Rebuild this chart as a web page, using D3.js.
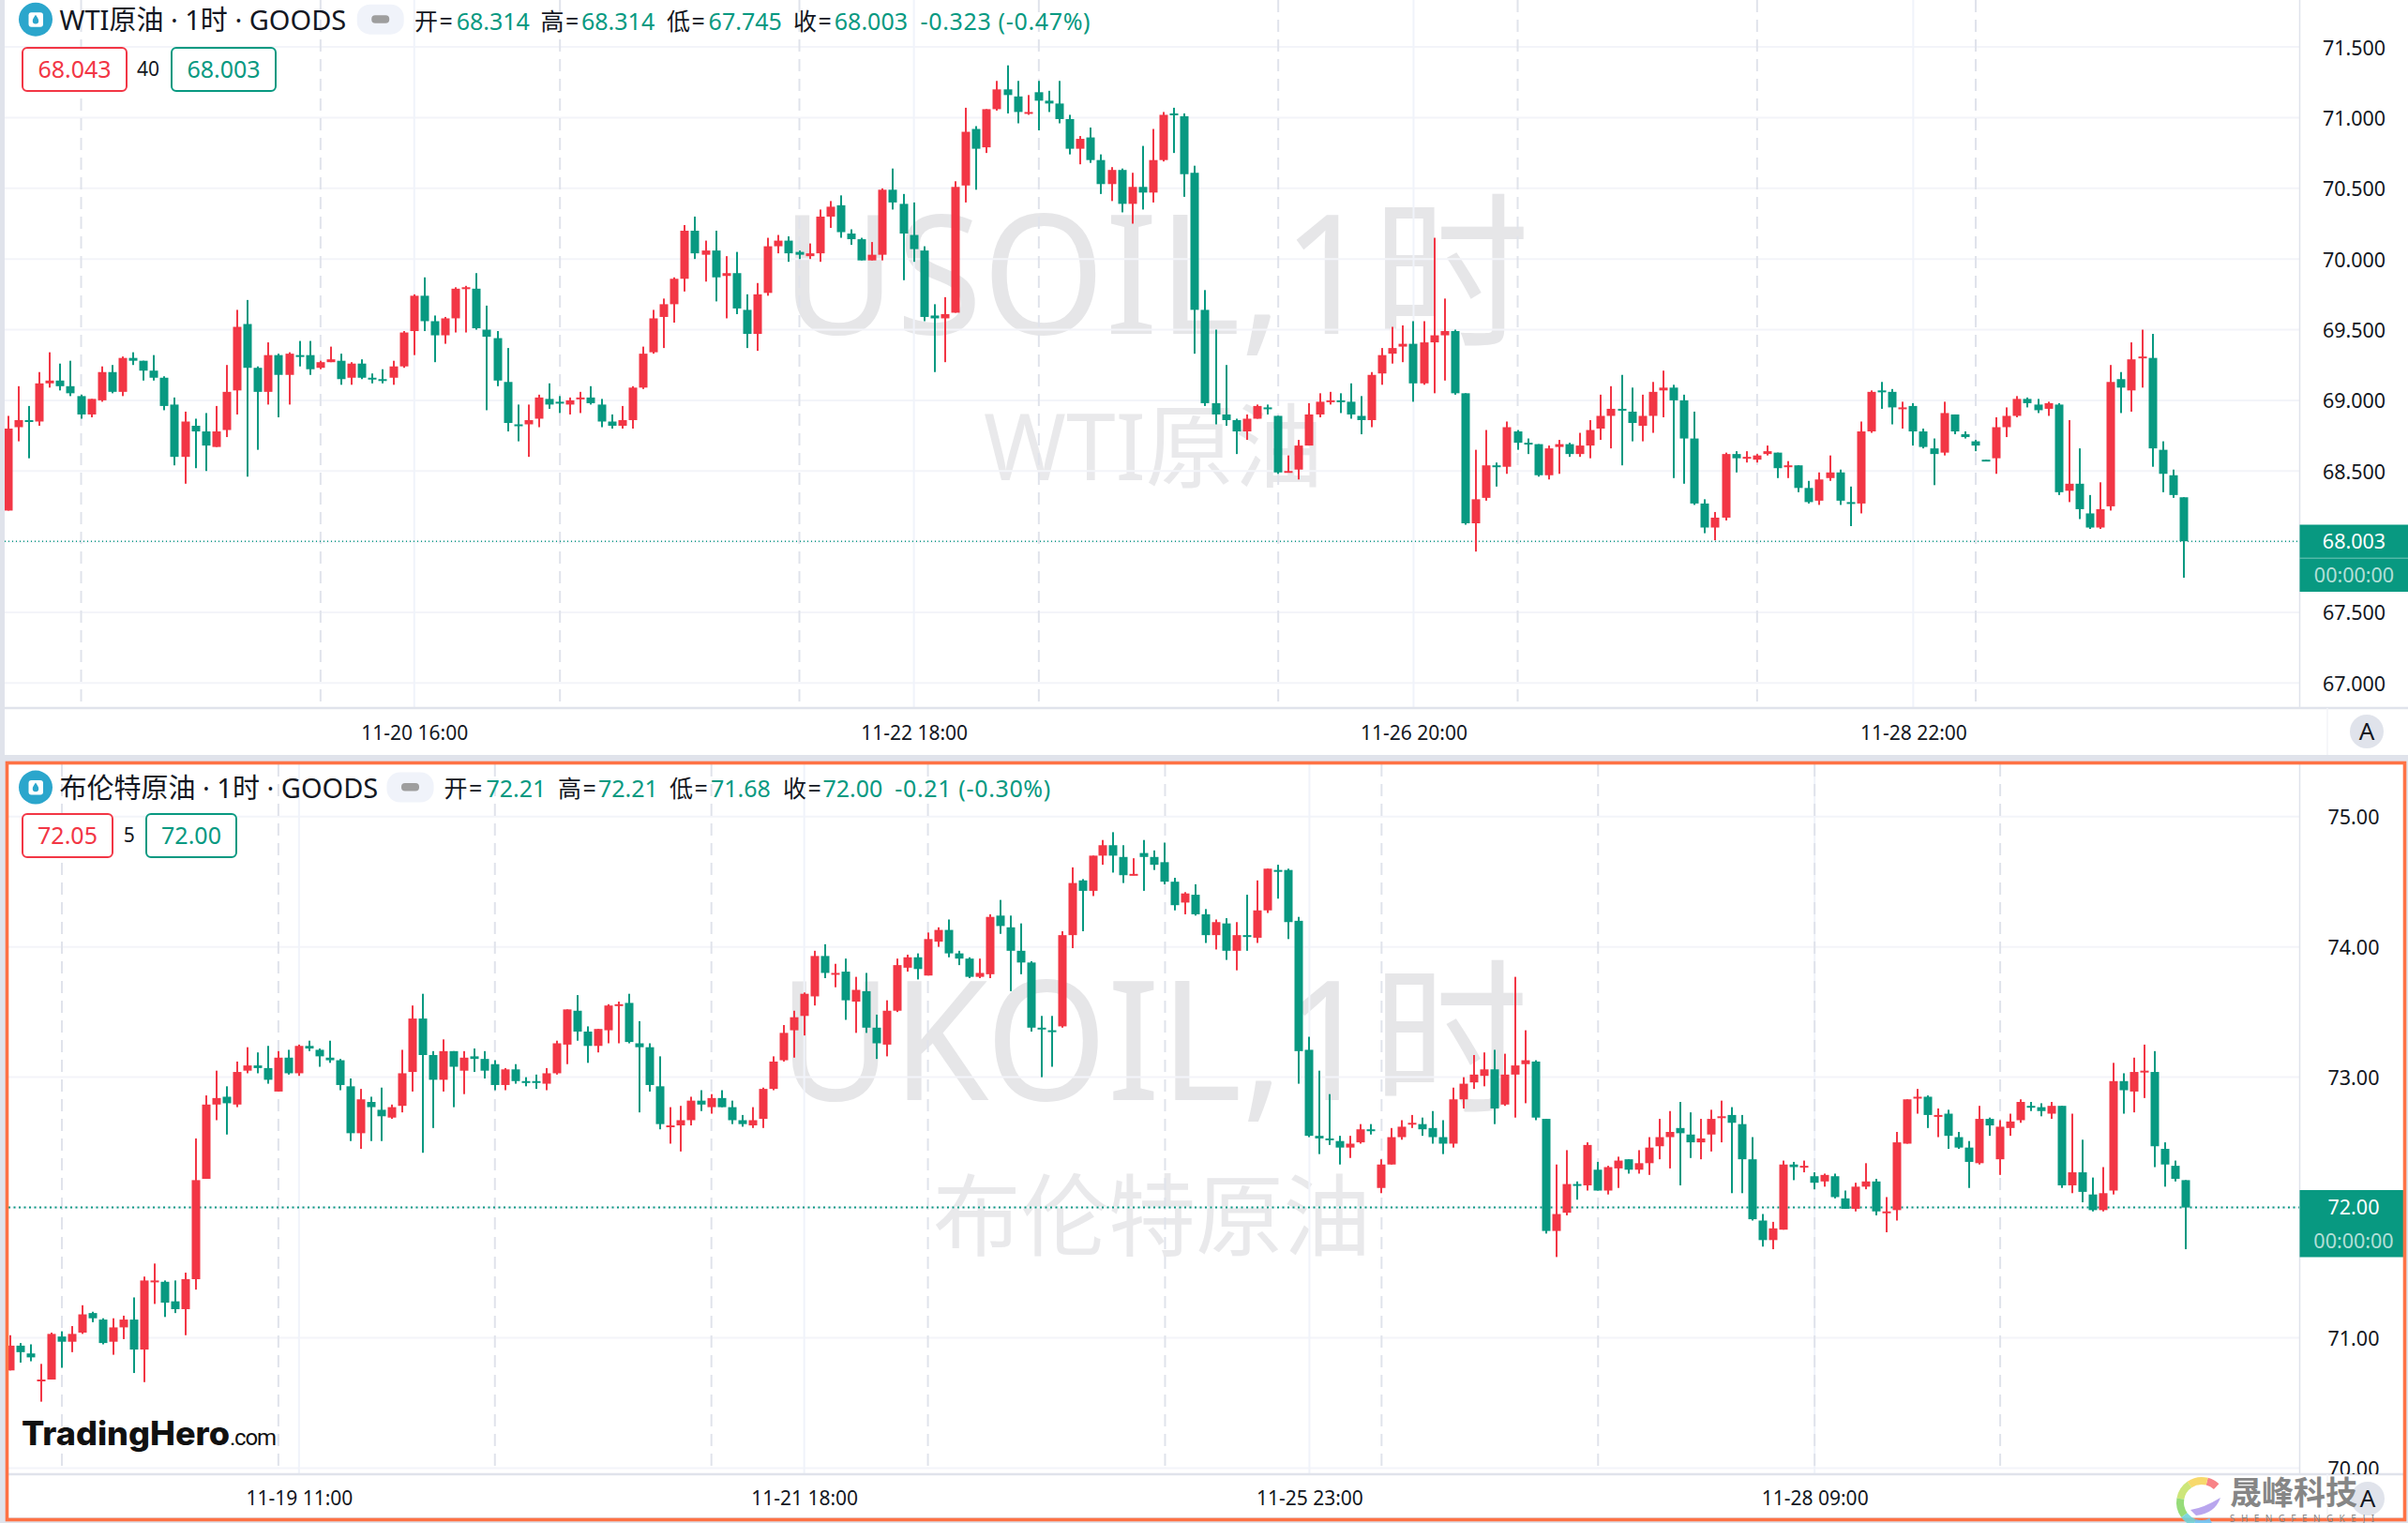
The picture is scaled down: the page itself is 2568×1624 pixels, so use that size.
<!DOCTYPE html>
<html><head><meta charset="utf-8">
<script src="https://cdn.jsdelivr.net/npm/d3@7"></script>
<style>
html,body{margin:0;padding:0;background:#E0E3EB;}
svg{display:block;}
text{font-family:"Noto Sans","Noto Sans CJK SC",sans-serif;}
</style></head><body><svg id="c" width="2568" height="1624"></svg>
<script>
const wtiOpen=[68.22,68.81,68.86,68.85,69.12,69.14,69.10,69.03,68.90,69.00,
69.20,69.06,69.30,69.28,69.21,69.16,68.97,68.60,68.82,68.78,
68.67,68.79,69.07,69.54,69.23,69.06,69.32,69.18,69.32,69.32,
69.23,69.27,69.28,69.16,69.26,69.16,69.15,69.16,69.24,69.49,
69.74,69.56,69.46,69.58,69.79,69.79,69.50,69.44,69.13,68.83,
68.83,68.87,69.01,68.99,68.97,69.01,69.02,68.97,68.85,68.82,
68.86,69.09,69.34,69.59,69.68,69.86,70.20,70.03,70.06,69.88,
69.90,69.64,69.47,69.76,70.09,70.13,70.05,70.02,70.04,70.30,
70.38,70.18,70.14,69.99,70.03,70.49,70.39,70.17,70.06,69.60,
69.58,69.62,70.52,70.92,70.79,71.06,71.20,71.15,71.03,71.18,
71.12,71.10,70.99,70.78,70.86,70.70,70.53,70.63,70.39,70.51,
70.47,70.70,71.03,71.01,70.61,69.64,68.98,68.90,68.86,68.78,
68.87,68.95,68.89,68.49,68.51,68.68,68.90,68.99,69.00,68.99,
68.89,68.86,69.19,69.33,69.38,69.40,69.12,69.41,69.46,69.49,
69.05,68.13,68.31,68.54,68.53,68.78,68.70,68.69,68.47,68.67,
68.69,68.62,68.68,68.80,68.89,68.94,68.92,68.82,68.89,69.07,
69.09,69.00,68.73,68.27,68.10,68.17,68.62,68.59,68.58,68.62,
68.63,68.53,68.54,68.38,68.29,68.45,68.49,68.28,68.27,68.78,
69.07,69.06,68.94,68.96,68.78,68.66,68.63,68.90,68.76,68.71,
68.58,68.59,68.81,68.89,69.01,68.97,68.94,68.97,68.36,68.41,
68.20,68.10,68.25,69.15,69.07,69.30,69.30,68.65,68.47,68.314];
const wtiHigh=[68.89,69.10,68.96,69.20,69.34,69.26,69.28,69.04,69.01,69.24,
69.25,69.31,69.34,69.28,69.32,69.17,69.02,68.92,68.87,68.91,
68.96,69.25,69.64,69.71,69.24,69.41,69.33,69.34,69.42,69.42,
69.28,69.38,69.33,69.27,69.29,69.19,69.22,69.28,69.49,69.75,
69.87,69.60,69.59,69.80,69.81,69.90,69.67,69.49,69.37,68.97,
68.97,69.04,69.12,69.03,69.02,69.06,69.10,69.01,68.90,68.96,
69.10,69.38,69.64,69.72,69.87,70.24,70.30,70.13,70.20,70.02,
70.05,69.75,69.83,70.15,70.17,70.16,70.06,70.11,70.35,70.41,
70.45,70.21,70.15,70.12,70.50,70.64,70.46,70.40,70.09,69.68,
69.73,70.55,71.07,70.94,71.06,71.26,71.37,71.26,71.16,71.26,
71.19,71.26,71.02,70.87,70.93,70.74,70.65,70.64,70.61,70.80,
70.92,71.04,71.07,71.03,70.66,69.78,69.50,69.25,68.87,68.90,
68.97,68.97,68.89,68.61,68.72,68.98,69.05,69.06,69.05,69.12,
69.03,69.20,69.37,69.52,69.53,69.56,69.56,70.15,69.72,69.50,
69.05,68.65,68.79,68.56,68.85,68.79,68.73,68.69,68.68,68.72,
68.70,68.77,68.86,69.04,69.10,69.18,69.09,69.04,69.13,69.21,
69.11,69.04,68.92,68.30,68.21,68.63,68.64,68.64,68.62,68.68,
68.63,68.57,68.54,68.43,68.49,68.61,68.51,68.39,68.85,69.07,
69.13,69.08,68.99,68.98,68.80,68.73,68.99,68.90,68.78,68.72,
68.58,68.88,68.95,69.03,69.02,69.01,68.99,68.98,68.86,68.66,
68.33,68.42,69.25,69.20,69.41,69.50,69.47,68.71,68.51,68.314];
const wtiLow=[68.22,68.71,68.59,68.82,69.09,69.07,69.03,68.87,68.88,68.99,
69.05,69.03,69.25,69.14,69.14,68.93,68.54,68.41,68.52,68.50,
68.67,68.74,68.90,68.46,68.65,68.97,68.88,68.97,69.24,69.18,
69.22,69.27,69.11,69.11,69.15,69.12,69.12,69.11,69.23,69.32,
69.49,69.27,69.40,69.48,69.48,69.50,68.93,69.10,68.78,68.71,
68.60,68.81,68.94,68.91,68.90,68.91,68.97,68.81,68.80,68.80,
68.80,69.08,69.33,69.37,69.55,69.77,70.00,69.84,69.70,69.58,
69.61,69.37,69.35,69.74,70.04,69.98,70.00,70.00,69.98,70.22,
70.15,70.10,69.99,69.99,69.99,70.35,69.85,69.98,69.56,69.20,
69.27,69.62,70.40,70.49,70.75,71.05,71.03,70.96,71.02,70.91,
71.04,70.96,70.74,70.67,70.68,70.46,70.41,70.33,70.25,70.35,
70.40,70.69,70.75,70.44,69.33,68.96,68.83,68.82,68.62,68.72,
68.87,68.90,68.48,68.49,68.44,68.68,68.88,68.97,68.91,68.87,
68.76,68.81,69.11,69.26,69.27,68.99,69.11,69.05,69.14,69.04,
68.12,67.93,68.29,68.39,68.48,68.65,68.62,68.46,68.44,68.48,
68.60,68.60,68.59,68.72,68.66,68.54,68.71,68.71,68.77,68.88,
68.45,68.41,68.26,68.06,68.01,68.15,68.49,68.56,68.56,68.61,
68.45,68.45,68.35,68.27,68.26,68.43,68.26,68.11,68.20,68.77,
68.94,68.83,68.80,68.68,68.66,68.40,68.61,68.76,68.73,68.64,
68.58,68.48,68.74,68.88,68.95,68.91,68.89,68.33,68.28,68.16,
68.09,68.09,68.22,68.91,68.92,69.09,68.53,68.35,68.31,67.745];
const wtiClose=[68.80,68.86,68.85,69.12,69.14,69.10,69.05,68.90,69.01,69.20,
69.06,69.30,69.28,69.21,69.16,68.96,68.60,68.85,68.78,68.68,
68.78,69.06,69.52,69.23,69.06,69.32,69.18,69.33,69.31,69.22,
69.27,69.29,69.15,69.26,69.16,69.15,69.14,69.24,69.48,69.74,
69.56,69.46,69.58,69.79,69.80,69.51,69.45,69.14,68.84,68.83,
68.86,69.02,68.97,68.98,69.00,69.02,68.98,68.85,68.82,68.86,
69.09,69.33,69.58,69.68,69.86,70.20,70.04,70.06,69.87,69.90,
69.65,69.47,69.75,70.09,70.13,70.04,70.03,70.04,70.30,70.37,
70.19,70.14,69.99,70.03,70.49,70.40,70.18,70.07,69.59,69.58,
69.61,70.51,70.90,70.78,71.06,71.20,71.16,71.04,71.04,71.12,
71.10,70.99,70.78,70.85,70.70,70.53,70.63,70.39,70.51,70.47,
70.70,71.02,71.02,70.60,69.64,68.98,68.90,68.86,68.78,68.87,
68.96,68.94,68.49,68.50,68.68,68.90,68.99,69.00,68.99,68.90,
68.86,69.18,69.32,69.37,69.40,69.12,69.41,69.46,69.49,69.05,
68.13,68.30,68.54,68.53,68.81,68.70,68.69,68.47,68.66,68.69,
68.62,68.68,68.79,68.89,68.94,68.93,68.84,68.89,69.06,69.09,
69.00,68.73,68.27,68.10,68.17,68.62,68.59,68.60,68.61,68.64,
68.52,68.54,68.38,68.28,68.44,68.49,68.29,68.27,68.78,69.06,
69.06,68.95,68.95,68.78,68.67,68.62,68.91,68.78,68.74,68.68,
68.58,68.81,68.89,69.01,68.98,68.93,68.98,68.35,68.41,68.23,
68.10,68.23,69.13,69.09,69.29,69.31,68.66,68.48,68.33,68.003];

const brentOpen=[70.75,70.94,70.88,70.67,70.68,71.01,70.97,71.04,71.19,71.14,
70.97,71.08,71.14,70.91,71.43,71.43,71.28,71.22,71.45,72.22,
72.79,72.85,72.79,73.05,73.09,73.07,72.89,73.15,73.03,73.24,
73.21,73.15,73.13,72.93,72.57,72.81,72.75,72.69,72.78,73.04,
73.45,73.17,72.98,73.20,73.05,73.16,73.14,73.10,72.94,73.06,
72.97,72.97,72.95,73.03,73.25,73.51,73.35,73.24,73.36,73.55,
73.57,73.26,73.23,72.93,72.62,72.63,72.67,72.82,72.77,72.84,
72.77,72.67,72.63,72.68,72.91,73.13,73.36,73.47,73.62,73.93,
73.79,73.81,73.58,73.66,73.38,73.25,73.51,73.84,73.92,73.78,
74.04,74.13,73.95,73.91,73.77,73.79,74.24,74.15,73.97,73.88,
73.38,73.36,73.39,74.09,74.51,74.43,74.70,74.78,74.69,74.55,
74.72,74.69,74.65,74.50,74.34,74.40,74.25,74.09,74.18,73.97,
74.09,74.07,74.28,74.59,74.59,74.20,73.21,72.55,72.53,72.51,
72.46,72.50,72.60,72.15,72.33,72.54,72.64,72.64,72.61,72.54,
72.49,72.83,72.96,73.01,73.06,72.79,73.02,73.10,73.12,72.68,
71.82,71.96,72.18,72.17,72.29,72.13,72.30,72.37,72.29,72.34,
72.47,72.54,72.61,72.56,72.50,72.56,72.69,72.71,72.64,72.37,
71.90,71.75,71.83,72.33,72.31,72.24,72.20,72.24,72.07,71.99,
72.16,72.20,71.96,71.98,72.49,72.84,72.85,72.70,72.72,72.54,
72.46,72.34,72.68,72.37,72.61,72.67,72.78,72.77,72.72,72.78,
72.17,72.27,72.10,71.98,72.13,72.97,72.89,73.04,73.04,72.45,
72.32,72.21];
const brentHigh=[71.02,70.96,70.95,70.80,71.04,71.05,71.09,71.25,71.20,71.15,
71.15,71.17,71.31,71.47,71.57,71.44,71.44,71.50,72.53,72.86,
73.05,72.93,73.12,73.23,73.19,73.24,73.20,73.21,73.25,73.28,
73.22,73.28,73.14,72.99,72.91,72.85,72.92,72.79,73.21,73.55,
73.64,73.20,73.29,73.20,73.20,73.22,73.20,73.13,73.07,73.10,
73.00,73.02,73.07,73.28,73.52,73.63,73.39,73.37,73.56,73.58,
73.64,73.43,73.26,73.16,72.77,72.78,72.85,72.90,72.87,72.90,
72.82,72.71,72.77,72.92,73.16,73.40,73.51,73.65,73.97,74.02,
73.87,73.91,73.77,73.80,73.48,73.59,73.91,73.94,73.95,74.11,
74.15,74.21,73.97,73.92,73.91,74.25,74.36,74.24,74.18,73.89,
73.47,73.47,74.12,74.61,74.52,74.70,74.82,74.88,74.78,74.68,
74.82,74.74,74.80,74.53,74.42,74.48,74.29,74.21,74.22,74.19,
74.40,74.51,74.60,74.63,74.60,74.23,73.31,73.05,72.87,72.55,
72.55,72.64,72.64,72.37,72.61,72.67,72.71,72.69,72.74,72.67,
72.92,73.00,73.17,73.19,73.21,73.18,73.77,73.36,73.13,72.68,
72.33,72.44,72.20,72.50,72.35,72.32,72.39,72.37,72.44,72.54,
72.68,72.74,72.81,72.73,72.68,72.75,72.82,72.77,72.71,72.54,
71.95,71.89,72.36,72.35,72.36,72.27,72.26,72.26,72.13,72.19,
72.34,72.22,72.08,72.58,72.83,72.91,72.86,72.76,72.75,72.58,
72.51,72.78,72.69,72.67,72.72,72.83,72.81,72.80,72.81,72.78,
72.72,72.52,72.23,72.31,73.11,73.03,73.15,73.25,73.20,72.50,
72.36,72.21];
const brentLow=[70.75,70.81,70.82,70.51,70.68,70.77,70.89,71.03,71.12,70.95,
70.87,70.99,70.73,70.66,71.26,71.16,71.19,71.02,71.37,72.22,
72.67,72.56,72.77,73.03,73.03,72.95,72.89,73.02,73.01,73.20,
73.08,73.11,72.90,72.51,72.45,72.51,72.51,72.68,72.73,72.89,
72.42,72.61,72.89,72.77,72.87,73.04,72.99,72.90,72.90,72.95,
72.93,72.91,72.90,73.02,73.10,73.28,73.11,73.19,73.26,73.26,
73.26,72.73,72.89,72.60,72.49,72.43,72.63,72.74,72.72,72.77,
72.64,72.62,72.61,72.61,72.90,73.12,73.15,73.32,73.55,73.76,
73.69,73.44,73.34,73.34,73.14,73.16,73.50,73.81,73.75,73.78,
74.00,73.92,73.86,73.76,73.76,73.76,74.10,73.66,73.79,73.35,
73.00,73.08,73.38,73.99,74.12,74.39,74.63,74.57,74.49,74.55,
74.43,74.59,74.48,74.28,74.25,74.24,74.03,73.98,73.90,73.82,
73.97,74.03,74.26,74.37,74.06,72.95,72.54,72.41,72.48,72.33,
72.38,72.49,72.56,72.11,72.33,72.52,72.61,72.55,72.49,72.41,
72.46,72.76,72.91,72.93,72.64,72.78,72.69,72.80,72.67,71.80,
71.62,71.94,72.06,72.13,72.13,72.10,72.15,72.26,72.26,72.25,
72.37,72.30,72.17,72.38,72.37,72.43,72.50,72.11,72.11,71.90,
71.70,71.68,71.83,72.21,72.27,72.14,72.16,72.07,71.99,71.97,
72.14,71.94,71.81,71.90,72.49,72.72,72.61,72.54,72.45,72.45,
72.15,72.33,72.55,72.25,72.55,72.65,72.74,72.70,72.68,72.15,
72.11,72.04,71.97,71.97,72.10,72.72,72.73,72.84,72.31,72.16,
72.20,71.68];
const brentClose=[70.94,70.89,70.85,70.68,71.03,70.97,71.03,71.18,71.15,70.96,
71.08,71.14,70.91,71.44,71.44,71.27,71.22,71.45,72.21,72.79,
72.84,72.80,73.04,73.09,73.07,72.98,73.15,73.03,73.24,73.22,
73.16,73.13,72.94,72.57,72.83,72.77,72.70,72.77,73.03,73.45,
73.17,72.98,73.20,73.08,73.15,73.14,73.05,72.94,73.06,72.97,
72.96,72.96,73.03,73.26,73.52,73.35,73.24,73.37,73.55,73.56,
73.27,73.23,72.94,72.64,72.63,72.67,72.82,72.79,72.84,72.77,
72.67,72.64,72.67,72.91,73.12,73.34,73.46,73.64,73.93,73.80,
73.80,73.59,73.67,73.38,73.26,73.51,73.86,73.92,73.83,74.06,
74.13,73.95,73.91,73.77,73.80,74.23,74.16,73.97,73.88,73.38,
73.37,73.35,74.09,74.49,74.43,74.70,74.78,74.70,74.55,74.56,
74.69,74.63,74.50,74.32,74.41,74.25,74.09,74.19,73.97,74.09,
74.08,74.28,74.60,74.58,74.19,73.20,72.55,72.53,72.52,72.46,
72.49,72.60,72.59,72.33,72.54,72.62,72.65,72.60,72.54,72.49,
72.83,72.95,73.02,73.06,72.76,73.02,73.09,73.13,72.69,71.82,
71.95,72.18,72.17,72.48,72.13,72.31,72.36,72.29,72.34,72.46,
72.54,72.58,72.57,72.50,72.53,72.68,72.70,72.65,72.37,71.91,
71.75,71.84,72.33,72.31,72.32,72.19,72.25,72.08,71.99,72.16,
72.20,71.97,71.97,72.50,72.83,72.85,72.71,72.71,72.55,72.46,
72.35,72.68,72.63,72.62,72.66,72.81,72.77,72.74,72.78,72.17,
72.27,72.12,71.98,72.11,72.97,72.90,73.04,73.05,72.47,72.33,
72.22,72.00];

const wtiPriceTicks=[67,67.5,68,68.5,69,69.5,70,70.5,71,71.5];
const brentPriceTicks=[70,71,72,73,74,75];
const wtiTimeIdx=[39,87,135,183];
const wtiTimeLabels=["11-20 16:00","11-22 18:00","11-26 20:00","11-28 22:00"];
const brentTimeIdx=[28,77,126,175];
const brentTimeLabels=["11-19 11:00","11-21 18:00","11-25 23:00","11-28 09:00"];
const wtiDateSepIdx=[7,30,53,76,99,122,145,168,189];
const brentDateSepIdx=[5,26,47,68,89,112,133,154,175,193];

const RED="#F23645",GREEN="#089981",BLACK="#131722";
const svg=d3.select("#c");
const defs=svg.append("defs");

function txt(g,x,y,s,size,fill,anchor,weight,extra){
  const t=g.append("text").attr("x",x).attr("y",y).attr("font-size",size).attr("fill",fill)
    .attr("text-anchor",anchor||"start").text(s);
  if(weight)t.attr("font-weight",weight);
  if(extra)extra(t);
  return t;
}

function drawPane(c){
  const g=svg.append("g");
  g.append("rect").attr("x",c.left).attr("y",c.top).attr("width",c.paneRight-c.left).attr("height",c.bottom-c.top).attr("fill","#fff");
  const y=d3.scaleLinear().domain(c.yDomain).range(c.yRange);
  const x=d3.scaleLinear().domain([0,c.open.length-1]).range(c.xRange);
  const id="clip"+c.id;
  defs.append("clipPath").attr("id",id).append("rect").attr("x",c.left).attr("y",c.top).attr("width",c.axisX-c.left).attr("height",c.axisY-c.top);
  const plot=g.append("g").attr("clip-path",`url(#${id})`);

  // watermark
  plot.append("text").attr("x",c.wm1X).attr("y",c.wm1Y).attr("font-size",c.wm1Size).attr("fill","#E6E6E8").attr("textLength",c.wm1Len).attr("lengthAdjust","spacingAndGlyphs").text(c.wm1);
  plot.append("text").attr("x",c.wm2X).attr("y",c.wm2Y).attr("font-size",c.wm2Size).attr("fill","#E9E9EB").attr("textLength",c.wm2Len).attr("lengthAdjust","spacingAndGlyphs").text(c.wm2);

  // grid
  plot.selectAll(".h").data(c.priceTicks).join("line").attr("x1",c.left).attr("x2",c.axisX).attr("y1",d=>y(d)).attr("y2",d=>y(d)).attr("stroke","#F3F4F9").attr("stroke-width",2);
  plot.selectAll(".v").data(c.timeIdx).join("line").attr("x1",d=>x(d)).attr("x2",d=>x(d)).attr("y1",c.top).attr("y2",c.axisY).attr("stroke","#F0F3FA").attr("stroke-width",2);
  plot.selectAll(".d").data(c.sepIdx).join("line").attr("x1",d=>x(d)).attr("x2",d=>x(d)).attr("y1",c.top).attr("y2",c.axisY).attr("stroke","#E0E3EB").attr("stroke-width",2).attr("stroke-dasharray","13 8");

  // last price line
  const lastC=c.close[c.close.length-1];
  plot.append("line").attr("x1",c.left).attr("x2",c.axisX).attr("y1",y(lastC)).attr("y2",y(lastC)).attr("stroke",GREEN).attr("stroke-width",c.dotW).attr("stroke-dasharray",c.dot);

  // candles
  const idx=d3.range(c.open.length);
  const col=i=>c.close[i]>c.open[i]?RED:GREEN;
  plot.selectAll(".w").data(idx).join("rect").attr("x",i=>Math.round(x(i))-1).attr("width",2)
    .attr("y",i=>y(c.high[i])).attr("height",i=>Math.max(1,y(c.low[i])-y(c.high[i]))).attr("fill",col);
  plot.selectAll(".b").data(idx).join("rect").attr("x",i=>Math.round(x(i))-4.5).attr("width",9)
    .attr("y",i=>Math.min(y(c.open[i]),y(c.close[i]))).attr("height",i=>Math.max(2,Math.abs(y(c.open[i])-y(c.close[i])))).attr("fill",col);

  // borders
  g.append("line").attr("x1",c.left).attr("x2",c.paneRight).attr("y1",c.axisY).attr("y2",c.axisY).attr("stroke","#E0E3EB").attr("stroke-width",2.5);
  g.append("line").attr("x1",c.axisX).attr("x2",c.axisX).attr("y1",c.top).attr("y2",c.axisY).attr("stroke","#E0E3EB").attr("stroke-width",1.5);
  g.append("line").attr("x1",c.dividerX).attr("x2",c.dividerX).attr("y1",c.axisY).attr("y2",c.bottom).attr("stroke","#F3F4F7").attr("stroke-width",1.5);

  // price axis
  const pid="pclip"+c.id;
  defs.append("clipPath").attr("id",pid).append("rect").attr("x",c.axisX).attr("y",c.top).attr("width",c.paneRight-c.axisX).attr("height",c.axisY-c.top);
  const pa=g.append("g").attr("clip-path",`url(#${pid})`).append("g").attr("transform",`translate(${c.labelX},0)`)
    .call(d3.axisRight(y).tickValues(c.priceTicks).tickFormat(d=>d.toFixed(c.dec)).tickSize(0).tickPadding(0));
  pa.select(".domain").remove();
  pa.selectAll("text").attr("font-size",21.5).attr("fill",BLACK).attr("text-anchor","middle").attr("x",0).attr("dy","0.37em").style("font-family",'"Noto Sans",sans-serif');

  // time axis
  const ta=g.append("g").attr("transform",`translate(0,${c.axisY})`)
    .call(d3.axisBottom(x).tickValues(c.timeIdx).tickFormat((d,i)=>c.timeLabels[i]).tickSize(0).tickPadding(0));
  ta.select(".domain").remove();
  ta.selectAll("text").attr("font-size",21).attr("fill",BLACK).attr("y",c.timeLabelDy).attr("dy",0).style("font-family",'"Noto Sans",sans-serif');

  // last price box
  g.append("rect").attr("x",c.axisX).attr("y",c.boxY0).attr("width",c.boxRight-c.axisX).attr("height",c.boxY1-c.boxY0).attr("fill",GREEN);
  if(c.boxDivider)g.append("line").attr("x1",c.axisX).attr("x2",c.boxRight).attr("y1",c.boxDivider).attr("y2",c.boxDivider).attr("stroke","rgba(255,255,255,.3)").attr("stroke-width",1.5);
  txt(g,c.labelX,c.boxT1,lastC.toFixed(c.dec),21.5,"#fff","middle");
  txt(g,c.labelX,c.boxT2,"00:00:00",21.5,"rgba(255,255,255,.7)","middle");

  // auto button
  g.append("circle").attr("cx",c.btnX).attr("cy",c.btnY).attr("r",18).attr("fill","#E0E3EB");
  txt(g,c.btnX,c.btnY+9,"A",26,BLACK,"middle");

  // header icon
  g.append("circle").attr("cx",38).attr("cy",c.iconY).attr("r",18).attr("fill","#2BA6CC");
  g.append("rect").attr("x",30.5).attr("y",c.iconY-7.5).attr("width",15.5).attr("height",15.5).attr("rx",3).attr("fill","#fff");
  g.append("path").attr("transform",`translate(38,${c.iconY})`).attr("d","M0,-5 C2,-2 3.2,-0.5 3.2,1.5 A3.2,3.2 0 0 1 -3.2,1.5 C-3.2,-0.5 -2,-2 0,-5Z").attr("fill","#2BA6CC");
  txt(g,63.5,c.headBase,c.title,29,BLACK);
  g.append("rect").attr("x",c.pillX).attr("y",c.iconY-16).attr("width",50).attr("height",32).attr("rx",14).attr("fill","#F0F3FA");
  g.append("rect").attr("x",c.pillX+15.5).attr("y",c.iconY-4.5).attr("width",19).attr("height",8.5).attr("rx",4).attr("fill","#9E9E9E");

  // OHLC legend
  c.legendLabels.forEach((l,i)=>{
    g.append("text").attr("x",c.legendX[i]).attr("y",c.legBase).attr("font-size",25).attr("fill",BLACK).attr("letter-spacing",1.5).text(l+"=");
    g.append("text").attr("x",c.legendValX[i]).attr("y",c.legBase).attr("font-size",25).attr("fill",GREEN).text(c.legendVals[i]);
  });
  txt(g,c.chgX,c.legBase,c.change,25,GREEN,"start",null,t=>t.attr("textLength",c.chgLen));

  // bid / ask
  const by=c.quoteY,bh=46;
  g.append("rect").attr("x",c.bidX).attr("y",by).attr("width",c.quoteW).attr("height",bh).attr("rx",5).attr("fill","#fff").attr("stroke",RED).attr("stroke-width",2);
  txt(g,c.bidX+c.quoteW/2,by+32,c.bid,25,RED,"middle");
  txt(g,c.spreadX,by+30,c.spread,21,BLACK,"middle");
  g.append("rect").attr("x",c.askX).attr("y",by).attr("width",c.quoteW).attr("height",bh).attr("rx",5).attr("fill","#fff").attr("stroke",GREEN).attr("stroke-width",2);
  txt(g,c.askX+c.quoteW/2,by+32,c.ask,25,GREEN,"middle");
}

drawPane({id:"w",open:wtiOpen,high:wtiHigh,low:wtiLow,close:wtiClose,priceTicks:wtiPriceTicks,timeIdx:wtiTimeIdx,timeLabels:wtiTimeLabels,sepIdx:wtiDateSepIdx,
  left:5,top:0,paneRight:2568,bottom:805,axisX:2452.5,axisY:755,dividerX:2482,
  yDomain:[67,71.5],yRange:[728.3,50.1],xRange:[8.8,2329],dec:3,labelX:2510.5,timeLabelDy:34,
  wm1X:833,wm1:"USOIL,1时",wm1Y:356,wm1Size:178,wm1Len:798,wm2X:1049,wm2:"WTI原油",wm2Y:512,wm2Size:98,wm2Len:362,dot:"1 3",dotW:1.5,
  boxY0:559.5,boxY1:631,boxDivider:595.3,boxRight:2568,boxT1:585,boxT2:621,btnX:2524,btnY:780,
  iconY:20.7,headBase:31.7,title:"WTI原油 · 1时 · GOODS",pillX:380.7,
  legendLabels:["开","高","低","收"],legendVals:["68.314","68.314","67.745","68.003"],legendX:[442,576.5,711,846],legendValX:[486.7,620,755.6,889.8],chgX:981.6,chgLen:181,change:"-0.323 (-0.47%)",legBase:32,
  quoteY:51,bidX:24,askX:183,quoteW:111,bid:"68.043",ask:"68.003",spread:"40",spreadX:158});

drawPane({id:"b",open:brentOpen,high:brentHigh,low:brentLow,close:brentClose,priceTicks:brentPriceTicks,timeIdx:brentTimeIdx,timeLabels:brentTimeLabels,sepIdx:brentDateSepIdx,
  left:9,top:815,paneRight:2564,bottom:1618,axisX:2452.5,axisY:1572,dividerX:2482,
  yDomain:[70,75],yRange:[1565.5,870.7],xRange:[11,2331],dec:2,labelX:2510,timeLabelDy:33,
  wm1X:830,wm1:"UKOIL,1时",wm1Y:1173,wm1Size:178,wm1Len:800,wm2X:995,wm2:"布伦特原油",wm2Y:1332,wm2Size:95,wm2Len:467,dot:"2 3.5",dotW:2,
  boxY0:1269,boxY1:1340.5,boxDivider:null,boxRight:2565,boxT1:1295,boxT2:1331,btnX:2525,btnY:1598,
  iconY:839.6,headBase:850.5,title:"布伦特原油 · 1时 · GOODS",pillX:412.5,
  legendLabels:["开","高","低","收"],legendVals:["72.21","72.21","71.68","72.00"],legendX:[473.4,595,714,835],legendValX:[518.4,638,758,877.5],chgX:954.3,chgLen:166,change:"-0.21 (-0.30%)",legBase:850,
  quoteY:868,bidX:24,askX:156,quoteW:96,bid:"72.05",ask:"72.00",spread:"5",spreadX:137.7});

// orange frame
svg.append("rect").attr("x",7.5).attr("y",813.5).attr("width",2557).attr("height",807).attr("fill","none").attr("stroke","#FF7245").attr("stroke-width",3.6);

// TradingHero mark
const logo=svg.append("g");
logo.append("text").attr("x",23).attr("y",1541).attr("font-size",35).attr("font-weight",800).attr("fill","#111").style("font-family","Inter").attr("textLength",222).attr("lengthAdjust","spacingAndGlyphs").text("TradingHero");
logo.append("text").attr("x",245).attr("y",1541).attr("font-size",24).attr("fill","#111").style("font-family","Roboto").attr("textLength",50).text(".com");

// publisher mark
const mark=svg.append("g");
const swirl=[[0.25,0.75,"#F7767A"],[-0.6,0.25,"#F6D55C"],[-1.4,-0.6,"#C8E36A"],[-2.2,-1.4,"#8BD86A"],[-2.8,-2.2,"#6FD3D8"],[-3.6,-2.8,"#6FC4F5"]];
const arc=d3.arc().innerRadius(19).outerRadius(27);
swirl.forEach(s=>mark.append("path").attr("transform","translate(2348,1602)").attr("d",arc({startAngle:s[0],endAngle:s[1]})).attr("fill",s[2]).attr("opacity",.9));
mark.append("path").attr("d","M2336,1610 Q2350,1608 2368,1597 Q2362,1614 2342,1616Z").attr("fill","#B9A6EE");
mark.append("text").attr("x",2378).attr("y",1604).attr("font-size",34).attr("font-weight",700).attr("fill","#868686").style("font-family",'"Noto Sans CJK SC"').text("晟峰科技");
mark.append("text").attr("x",2378).attr("y",1623).attr("font-size",10).attr("fill","#868686").attr("letter-spacing",6.4).text("SHENGFENGKEJI");
</script></body></html>
